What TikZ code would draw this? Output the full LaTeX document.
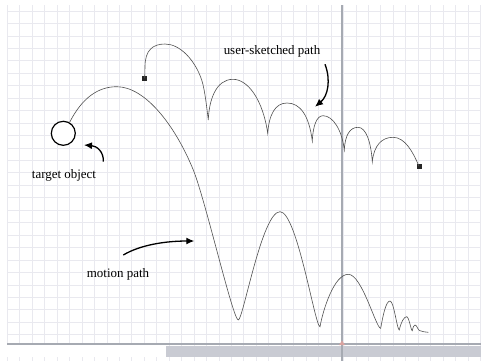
\documentclass[tikz,border=0pt]{standalone}
\usepackage{fontspec}
\setmainfont{Liberation Serif}
\usepackage{tikz}
\usetikzlibrary{arrows.meta,calc}
\definecolor{gridgray}{HTML}{E9E9EF}
\definecolor{axisgray}{HTML}{A6AAB2}
\definecolor{bargray}{HTML}{C9CBD3}
\definecolor{markred}{HTML}{D9A3A0}
\definecolor{pathgray}{HTML}{505050}

\begin{document}
\begin{tikzpicture}[
  x=1bp, y=-1bp,
  font=\fontsize{13}{15}\selectfont,
  grid line/.style={draw=gridgray, line width=0.8bp},
  axis line/.style={draw=axisgray, line width=1.6bp},
  motion/.style={draw=pathgray, line width=0.6bp},
  sketch/.style={draw=pathgray, line width=0.6bp},
  handle/.style={fill=black!85, minimum size=5bp, inner sep=0pt, outer sep=0pt},
  target/.style={circle, draw=black, line width=1.2bp, fill=white, minimum size=24bp, inner sep=0pt},
  lbl/.style={inner sep=1pt},
  arr/.style={-{Latex[length=8bp, width=7bp]}, line width=1.3bp, draw=black}
]
\useasboundingbox (0,0) rectangle (481,361);
\fill[white] (0,0) rectangle (481,361);
% ---------- grid ----------
\foreach \i in {0,...,38}
  \draw[grid line] ({7.3+12.45*\i},5) -- ({7.3+12.45*\i},361);
\foreach \j in {0,...,27}
  \draw[grid line] (7,{11+12.45*\j}) -- (481,{11+12.45*\j});
% ---------- timeline ----------
\fill[white] (7,345) rectangle (166,357);
\fill[bargray] (166,345.5) rectangle (481,357);
\draw[axis line] (7,344) -- (481,344);
\draw[axis line, line width=2bp] (342,5) -- (342,361);
\fill[markred] (339,345) -- (342,340.5) -- (345,345) -- cycle;

% ---------- target object and motion path ----------
\node[target] (obj) at (63.3,133.3) {};
\draw[motion] (obj.60) .. controls (82,98) and (98,86.7) .. (116.7,86.7)
  .. controls (145,86.7) and (175,125) .. (193.3,170)
  .. controls (205.3,199.5) and (233,320) .. (238.3,320)
  .. controls (243,320) and (262,211.7) .. (280,211.7)
  .. controls (297,211.7) and (315,326.7) .. (320,326.7)
  .. controls (323,310) and (334,274.3) .. (348.3,274.3)
  .. controls (362,274.3) and (376,328.3) .. (380.7,328.3)
  .. controls (383,315) and (386,301) .. (390,301)
  .. controls (394,301) and (397,330) .. (399.3,330)
  .. controls (401,322) and (404,316.7) .. (406.7,316.7)
  .. controls (409,316.7) and (411,330.7) .. (412.3,330.7)
  .. controls (413,327) and (414,325) .. (415,325)
  .. controls (417,325) and (418,330.7) .. (420,330.7)
  .. controls (423,331.5) and (425,332.3) .. (428.3,332.3);

% ---------- user-sketched path ----------
\node[handle] (s0) at (144.7,78.3) {};
\node[handle] (s1) at (419,166.3) {};
\draw[sketch] (s0.center) -- (145,66.7) .. controls (145,50) and (153,44) .. (165,44)
  .. controls (180,44) and (195,60) .. (201.7,80)
  .. controls (205,90) and (207,110) .. (208.3,120)
  .. controls (209,100) and (216,79.3) .. (233,79.3)
  .. controls (248,79.3) and (263,100) .. (267.7,133.3)
  .. controls (269,115) and (275,103) .. (287,103)
  .. controls (300,103) and (309,115) .. (312.3,141)
  .. controls (313,125) and (317,115.7) .. (323,115.7)
  .. controls (333,115.7) and (342,130) .. (344.3,150)
  .. controls (345,135) and (350,127.3) .. (358,127.3)
  .. controls (366,127.3) and (371,142) .. (372.3,161.7)
  .. controls (374,145) and (382,137.3) .. (393,137.3)
  .. controls (405,137.3) and (413,152) .. (s1.center);

% ---------- labels ----------
\node[lbl] (lsketch) at (272,51) {user-sketched path};
\node[lbl] (ltarget) at (64,175) {target object};
\node[lbl] (lmotion) at (118,274.3) {motion path};

% ---------- pointer arrows ----------
\coordinate (ua) at (325,64.3);
\coordinate (ub) at (315,106.7);
\coordinate (ta) at (103.3,161.7);
\coordinate (tb) at (84,145);
\coordinate (ma) at (123.3,255);
\coordinate (mb) at (194.3,241);
\draw[arr] (ua) .. controls (331,80) and (328,96) .. (ub);
\draw[arr] (ta) .. controls (104,152) and (97,146) .. (tb);
\draw[arr] (ma) .. controls (140,245) and (165,241) .. (mb);
\end{tikzpicture}
\end{document}
